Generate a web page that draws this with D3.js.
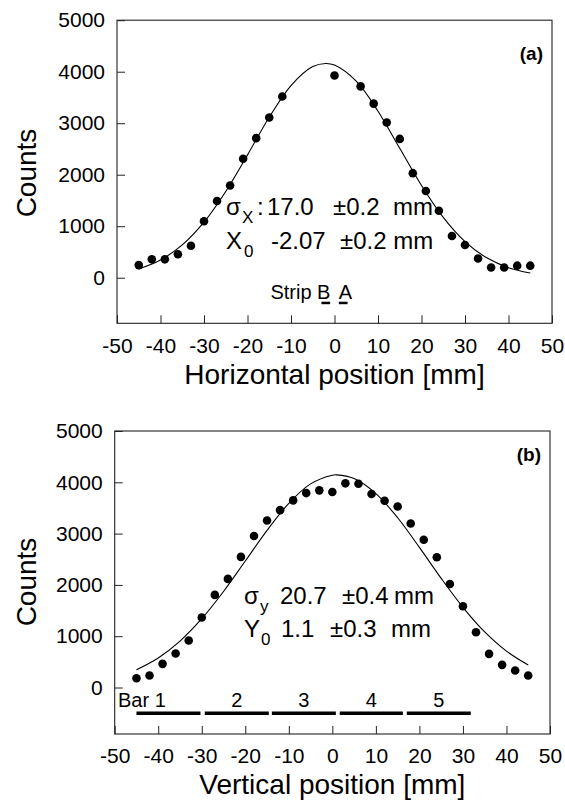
<!DOCTYPE html>
<html>
<head>
<meta charset="utf-8">
<script src="https://cdn.jsdelivr.net/npm/d3@7/dist/d3.min.js"></script>
<style>
  html, body { margin: 0; padding: 0; background: #fff; }
  svg { display: block; font-family: "Liberation Sans", Arial, Helvetica, sans-serif; }
</style>
</head>
<body>
<svg id="chart" width="565" height="801"></svg>
<script>
// ---------------- DATA ----------------
// Panel (a): horizontal profile
const posA = [-45, -42, -39, -36, -33, -30, -27, -24, -21, -18, -15, -12, 0, 6, 9, 12, 15, 18, 21, 24, 27, 30, 33, 36, 39, 42, 45];
const countsA = [245, 357, 357, 455, 620, 1095, 1490, 1790, 2310, 2710, 3110, 3520, 3925, 3715, 3380, 3015, 2695, 2030, 1683, 1300, 810, 635, 372, 198, 198, 234, 234];
// fitted curve (a)
const fitXA = [-45, -40, -35, -30, -25, -20, -15, -10, -5, -2, 0, 5, 10, 15, 20, 25, 30, 35, 40, 45];
const fitYA = [171, 345, 637, 1079, 1675, 2385, 3115, 3731, 4099, 4160, 4129, 3815, 3233, 2513, 1791, 1171, 702, 386, 195, 90];
// strip markers (a)
const stripLabels = ["B", "A"];
const stripStart = [-3, 1];
const stripEnd = [-1, 3];
const stripLevel = -490;

// Panel (b): vertical profile
const posB = [-45, -42, -39, -36, -33, -30, -27, -24, -21, -18, -15, -12, -9, -6, -3, 0, 3, 6, 9, 12, 15, 18, 21, 24, 27, 30, 33, 36, 39, 42, 45];
const countsB = [182, 234, 461, 662, 916, 1364, 1805, 2117, 2547, 2953, 3255, 3457, 3647, 3790, 3843, 3810, 3980, 3973, 3771, 3640, 3529, 3196, 2880, 2540, 2019, 1584, 1078, 656, 442, 331, 234];
const fitXB = [-45, -40, -35, -30, -25, -20, -15, -10, -5, 0, 1, 5, 10, 15, 20, 25, 30, 35, 40, 45];
const fitYB = [347, 577, 906, 1341, 1872, 2465, 3063, 3590, 3969, 4139, 4145, 4072, 3779, 3309, 2732, 2128, 1564, 1084, 709, 437];
// scintillator bars (b)
const barLabels = ["Bar 1", "2", "3", "4", "5"];
const barStart = [-45, -29.3, -13.9, 1.7, 17.1];
const barEnd = [-30.3, -14.6, 0.8, 16.2, 31.8];
const barLevel = -500;

// axes
const xTicks = [-50, -40, -30, -20, -10, 0, 10, 20, 30, 40, 50];
const yTicks = [0, 1000, 2000, 3000, 4000, 5000];
const xDomain = [-50, 50];

// ---------------- DRAW ----------------
const svg = d3.select("#chart");
const FONT_TICK = 21;
const fmt = d => String(d); // plain hyphen-minus as in the original

function panel(cfg) {
  const g = svg.append("g");
  const x = d3.scaleLinear().domain(xDomain).range([cfg.left, cfg.right]);
  const y = d3.scaleLinear().domain(cfg.yDomain).range([cfg.bottom, cfg.top]);

  // frame
  g.append("rect")
    .attr("x", cfg.left).attr("y", cfg.top)
    .attr("width", cfg.right - cfg.left).attr("height", cfg.bottom - cfg.top)
    .attr("fill", "none").attr("stroke", "#222").attr("stroke-width", 1.1);

  // x axis (ticks inward)
  const gx = g.append("g").attr("transform", `translate(0,${cfg.bottom})`)
    .call(d3.axisBottom(x).tickValues(xTicks).tickFormat(fmt)
      .tickSizeInner(-8).tickSizeOuter(0).tickPadding(cfg.xPad));
  gx.select(".domain").remove();
  gx.selectAll("line").attr("stroke", "#222");
  gx.selectAll("text").attr("font-size", FONT_TICK).attr("fill", "#000")
    .attr("font-family", "Liberation Sans, Arial, sans-serif");

  // y axis (ticks inward)
  const gy = g.append("g").attr("transform", `translate(${cfg.left},0)`)
    .call(d3.axisLeft(y).tickValues(yTicks).tickFormat(fmt)
      .tickSizeInner(-8).tickSizeOuter(0).tickPadding(12));
  gy.select(".domain").remove();
  gy.selectAll("line").attr("stroke", "#222");
  gy.selectAll("text").attr("font-size", FONT_TICK).attr("fill", "#000")
    .attr("font-family", "Liberation Sans, Arial, sans-serif");

  // axis titles
  g.append("text")
    .attr("transform", `translate(36,${cfg.countsY}) rotate(-90)`)
    .attr("text-anchor", "middle").attr("font-size", 28).attr("fill", "#000")
    .text("Counts");
  g.append("text")
    .attr("x", (cfg.left + cfg.right) / 2).attr("y", cfg.titleY)
    .attr("text-anchor", "middle").attr("font-size", 28).attr("fill", "#000")
    .text(cfg.title);

  // panel tag
  g.append("text")
    .attr("x", cfg.right - 9).attr("y", cfg.top + cfg.tagDy)
    .attr("text-anchor", "end").attr("font-size", 19).attr("font-weight", "bold")
    .attr("fill", "#000").text(cfg.tag);

  // fitted curve
  const line = d3.line().x(d => x(d[0])).y(d => y(d[1])).curve(d3.curveCatmullRom.alpha(0.5));
  g.append("path")
    .datum(cfg.fitX.map((v, i) => [v, cfg.fitY[i]]))
    .attr("d", line).attr("fill", "none").attr("stroke", "#000").attr("stroke-width", 1.1);

  // data points
  g.selectAll("circle.pt")
    .data(cfg.px.map((v, i) => [v, cfg.py[i]]))
    .join("circle").attr("class", "pt")
    .attr("cx", d => x(d[0])).attr("cy", d => y(d[1]))
    .attr("r", 4.3).attr("fill", "#000");

  return { g, x, y };
}

// Panel (a)
const A = panel({
  left: 117, right: 552, top: 20.2, bottom: 323.3, yDomain: [-885, 5000],
  xPad: 15, countsY: 173, titleY: 384, title: "Horizontal position [mm]",
  tag: "(a)", tagDy: 40, fitX: fitXA, fitY: fitYA, px: posA, py: countsA
});

// annotation pieces
function piece(g, x, y, txt, size) {
  g.append("text").attr("x", x).attr("y", y).attr("font-size", size)
    .attr("fill", "#000").style("white-space", "pre").text(txt);
}
piece(A.g, 226, 215, "σ", 24);
piece(A.g, 242, 223, "X", 17);
piece(A.g, 257, 215, ":", 24);
piece(A.g, 267, 215, "17.0", 24);
piece(A.g, 333, 215, "±0.2", 24);
piece(A.g, 393, 215, "mm", 24);
piece(A.g, 226, 249, "X", 24);
piece(A.g, 244, 257, "0", 17);
piece(A.g, 271, 249, "-2.07", 24);
piece(A.g, 340, 249, "±0.2 mm", 24);

// strip markers
A.g.append("text").attr("x", A.x(stripStart[0]) + 9).attr("y", A.y(stripLevel) - 4)
  .attr("text-anchor", "end").attr("font-size", 20).attr("fill", "#000")
  .text("Strip " + stripLabels[0]);
A.g.append("text").attr("x", A.x(stripStart[1])).attr("y", A.y(stripLevel) - 4)
  .attr("font-size", 20).attr("fill", "#000").text(stripLabels[1]);
A.g.selectAll("line.strip")
  .data(stripStart.map((s, i) => [s, stripEnd[i]]))
  .join("line").attr("class", "strip")
  .attr("x1", d => A.x(d[0])).attr("x2", d => A.x(d[1]))
  .attr("y1", A.y(stripLevel)).attr("y2", A.y(stripLevel))
  .attr("stroke", "#000").attr("stroke-width", 2.5);

// Panel (b)
const B = panel({
  left: 114.7, right: 550, top: 431, bottom: 734, yDomain: [-906, 5000],
  xPad: 14, countsY: 582, titleY: 794, title: "Vertical position [mm]",
  tag: "(b)", tagDy: 30, fitX: fitXB, fitY: fitYB, px: posB, py: countsB
});

piece(B.g, 244, 604, "σ", 24);
piece(B.g, 260, 612, "y", 17);
piece(B.g, 280, 604, "20.7", 24);
piece(B.g, 342, 604, "±0.4", 24);
piece(B.g, 394, 604, "mm", 24);
piece(B.g, 244, 637, "Y", 24);
piece(B.g, 261, 645, "0", 17);
piece(B.g, 281, 637, "1.1", 24);
piece(B.g, 330, 637, "±0.3", 24);
piece(B.g, 391, 637, "mm", 24);

// bars
B.g.selectAll("line.bar")
  .data(barStart.map((s, i) => [s, barEnd[i]]))
  .join("line").attr("class", "bar")
  .attr("x1", d => B.x(d[0])).attr("x2", d => B.x(d[1]))
  .attr("y1", B.y(barLevel)).attr("y2", B.y(barLevel))
  .attr("stroke", "#000").attr("stroke-width", 3.5);
B.g.selectAll("text.barlbl")
  .data(barLabels.map((l, i) => ({ l, c: (barStart[i] + barEnd[i]) / 2, i })))
  .join("text").attr("class", "barlbl")
  .attr("x", d => d.i === 0 ? 118 : B.x(d.c))
  .attr("y", 707)
  .attr("text-anchor", d => d.i === 0 ? "start" : "middle")
  .attr("font-size", 20).attr("fill", "#000")
  .text(d => d.l);
</script>
</body>
</html>
